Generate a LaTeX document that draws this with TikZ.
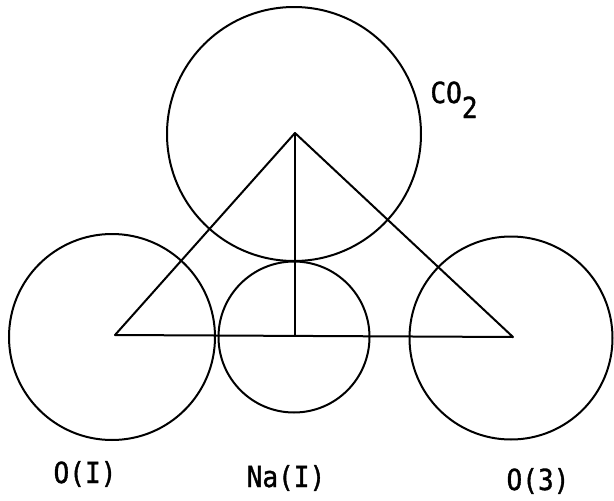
\documentclass[tikz,border=0pt]{standalone}
\usepackage{fontspec}
\newfontfamily\lblfont[FakeStretch=0.9,FakeBold=1.2]{DejaVu Sans Mono}
\begin{document}
\begin{tikzpicture}[x=1pt,y=-1pt,
  atom/.style={draw,circle,line width=2pt,inner sep=0pt},
  bond/.style={line width=2pt,line join=round},
  lbl/.style={font=\lblfont\fontsize{29}{31}\selectfont,inner sep=0pt,anchor=base}]
\useasboundingbox (0,0) rectangle (614,501);
% atoms
\node[atom,minimum size=254pt] (co2) at (294,134) {};
\node[atom,minimum size=206pt] (o1) at (112,337) {};
\node[atom,minimum size=151pt] (na) at (294,337) {};
\node[atom,minimum size=203pt] (o3) at (511,338) {};
% triangle vertices
\coordinate (apex) at (295,133);
\coordinate (left) at (115,335);
\coordinate (right) at (513,337);
\coordinate (foot) at (295,336);
\draw[bond] (left) -- (apex) -- (right) -- cycle;
\draw[bond] (apex) -- (foot);
% labels
\node[lbl] (lco2) at (454,103) {CO\raisebox{-15pt}{2}};
\node[lbl] (lo1) at (85,483) {O(I)};
\node[lbl] (lna) at (286,487) {Na(I)};
\node[lbl] (lo3) at (538,490) {O(3)};
\end{tikzpicture}
\end{document}
